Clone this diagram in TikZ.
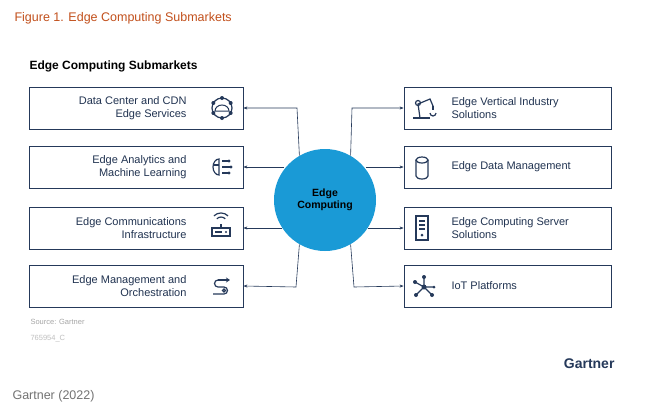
\documentclass[tikz,border=0pt]{standalone}
\usepackage{fontspec}
\setmainfont{Liberation Sans}
\usetikzlibrary{arrows.meta}
\definecolor{navy}{HTML}{25395A}
\definecolor{cblue}{HTML}{1A9AD6}
\definecolor{orng}{HTML}{C2501C}
\begin{document}
\begin{tikzpicture}[x=1pt,y=-1pt,
  box/.style={draw=navy,line width=0.8pt,minimum width=214pt,minimum height=42pt,inner sep=0pt},
  lt/.style={font=\fontsize{11}{13}\selectfont,text=navy!90!black,align=right,anchor=east},
  rt/.style={font=\fontsize{11}{13}\selectfont,text=navy!90!black,align=left,anchor=west},
  con/.style={draw=navy,line width=0.6pt,-{Stealth[length=4pt,width=3pt]}},
  ic/.style={draw=navy,line width=1.2pt}]
\useasboundingbox (0,0) rectangle (645,413);
\fill[white] (0,0) rectangle (645,413);
\node[anchor=west,text=orng,font=\fontsize{12.5}{14}\selectfont] (fig) at (11,18) {Figure 1. Edge Computing Submarkets};
\node[anchor=west,font=\bfseries\fontsize{12}{14}\selectfont] (hd) at (26,66) {Edge Computing Submarkets};
% boxes
\node[box] (l1) at (136,108) {}; \node[box] (l2) at (136,167) {};
\node[box] (l3) at (136,228) {}; \node[box] (l4) at (136,286) {};
\node[box,minimum width=207pt] (r1) at (507.5,108) {}; \node[box,minimum width=207pt] (r2) at (507.5,167) {};
\node[box,minimum width=207pt] (r3) at (507.5,228) {}; \node[box,minimum width=207pt] (r4) at (507.5,286) {};
\node[lt] (t1) at (190,108) {Data Center and CDN\\Edge Services};
\node[lt] (t2) at (190,167) {Edge Analytics and\\Machine Learning};
\node[lt] (t3) at (190,228) {Edge Communications\\Infrastructure};
\node[lt] (t4) at (190,286) {Edge Management and\\Orchestration};
\node[rt] (u1) at (448,108) {Edge Vertical Industry\\Solutions};
\node[rt] (u2) at (448,167) {Edge Data Management};
\node[rt] (u3) at (448,228) {Edge Computing Server\\Solutions};
\node[rt] (u4) at (448,286) {IoT Platforms};
% centre
\node[circle,fill=cblue,minimum size=102pt,inner sep=0pt,align=center,font=\bfseries\fontsize{10.5}{12.5}\selectfont] (c) at (325,200) {Edge\\Computing};
\coordinate (a1) at (297,108); \coordinate (b1) at (352,108);
\coordinate (a4) at (296,287); \coordinate (b4) at (354,287);
\coordinate (s2) at (284,167); \coordinate (e2) at (366,167);
\coordinate (s3) at (282,228); \coordinate (e3) at (368,228);
\draw[con] (c.120) -- (a1) -- (l1.east);
\draw[con] (c.60) -- (b1) -- (r1.west);
\draw[con] (s2) -- (l2.east);
\draw[con] (e2) -- (r2.west);
\draw[con] (s3) -- (l3.east);
\draw[con] (e3) -- (r3.west);
\draw[con] (c.240) -- (a4) -- (l4.east);
\draw[con] (c.300) -- (b4) -- (r4.west);
% icons
\begin{scope}[ic]
 % cloud hexagon
 \draw (222,108) circle (10); \draw[line width=1pt] (215,111) arc (180:360:7 and 6) -- cycle;
 \foreach \a in {30,90,...,330} \fill[navy] (222,108)++(\a:10) circle (2);
 % brain
 \draw (219,159) arc (270:90:6 and 8) -- cycle; \draw (214,165) -- (219,165);
 \draw (222,161) -- (228,161); \draw (222,167) -- (230,167); \draw (222,173) -- (228,173);
 \fill[navy] (229,161) circle(1.6) (231,167) circle(1.6) (229,173) circle(1.6);
 % router
 \draw (212,228) rectangle (230,236); \draw (221,228) -- (221,224); \draw (215,232)--(222,232);
 \draw (216.8,218.8) arc (225:315:6); \draw (213.9,215.9) arc (225:315:10);
 \fill[navy] (226,232) circle (1.2);
 % orchestration
 \draw[-{Stealth[length=4pt,width=5pt]}] (218,280) -- (230,280);
 \draw (218,280) arc (270:90:3.5) -- (224,287) arc (270:450:3.5) -- (213,294);
 \draw (224,290.5) circle (1.5);
 % robot arm
 \draw (413,118) -- (430,118); \draw (420,118) -- (418,104) -- (430,99) -- (433,106);
 \draw (433,106) -- (433,110); \draw (430,113) arc (180:0:3);
 \draw (418,103) circle (2.5);
 % database
 \draw (416,160) -- (416,176) arc (180:0:6 and 3) -- (428,160); \draw (422,160) ellipse (6 and 3);
 % server
 \draw (416,216) rectangle (428,240); \draw (419,221)--(425,221) (419,225)--(425,225) (419,229)--(425,229);
 \fill[navy] (422,235) circle (1.5);
\end{scope}
\begin{scope}[navy,line width=1.2pt]
 \draw (424,287) -- (424,277) (424,287)--(415,282) (424,287)--(416,295) (424,287)--(432,295) (424,287)--(434,287);
 \fill (424,287) circle (2.5) (424,277) circle (2) (415,282) circle(2) (416,295) circle (2) (432,295) circle (2) (434,287) circle (1.5);
\end{scope}
\node[anchor=west,text=gray!70,font=\fontsize{7.5}{8}\selectfont] (src) at (27,322) {Source: Gartner};
\node[anchor=west,text=gray!50,font=\fontsize{7.5}{8}\selectfont] (id) at (27,339) {765954\_C};
\node[anchor=east,text=navy,font=\bfseries\fontsize{14}{16}\selectfont] (g) at (618,364) {Gartner};
\node[anchor=west,text=gray!90!black,font=\fontsize{12.5}{14}\selectfont] (cap) at (9,396) {Gartner (2022)};
\end{tikzpicture}
\end{document}
